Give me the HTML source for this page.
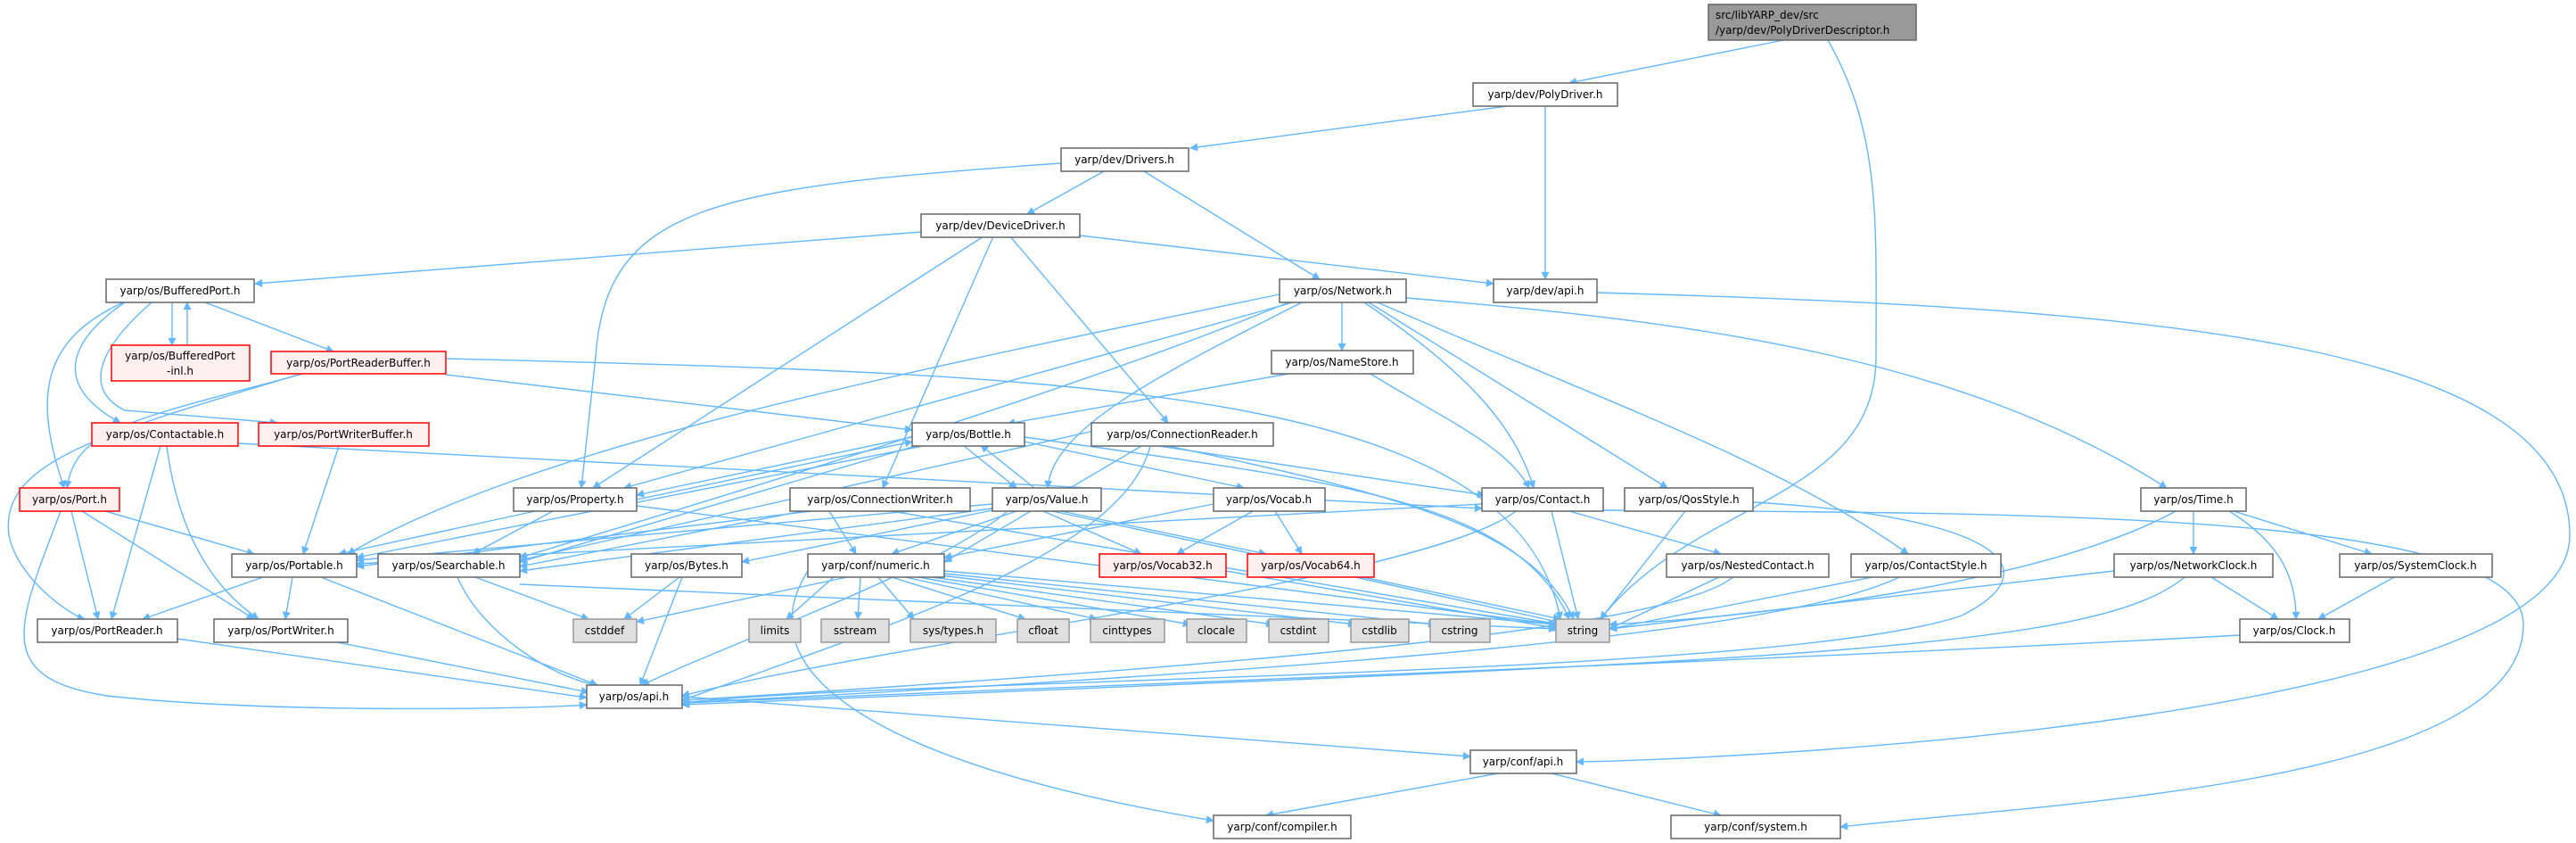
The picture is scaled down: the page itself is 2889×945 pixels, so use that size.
<!DOCTYPE html>
<html><head><meta charset="utf-8"><style>
html,body{margin:0;padding:0;background:#fff;}
svg{display:block}
.e{fill:none;stroke:#63b8ff;stroke-width:1.4;marker-end:url(#a)}
.n rect{fill:#fff;stroke:#666;stroke-width:1.5}
.r rect{fill:#fff0f0;stroke:#f00;stroke-width:1.5}
.g rect{fill:#e0e0e0;stroke:#999;stroke-width:1.5}
text{font-family:"DejaVu Sans","Liberation Sans",sans-serif;font-size:12px;fill:#000}
</style></head><body>
<svg width="2889" height="945" viewBox="0 0 2889 945" xmlns="http://www.w3.org/2000/svg">
<defs><marker id="a" viewBox="0 0 10 10" refX="9" refY="5" markerWidth="11" markerHeight="9" markerUnits="userSpaceOnUse" orient="auto"><path d="M0,0L10,5L0,10z" fill="#63b8ff"/></marker></defs>
<g>
<path class="e" d="M2000,45L1760,93"/>
<path class="e" d="M2050,45C2110,150 2104,250 2104,400C2104,560 1900,560 1795,694"/>
<path class="e" d="M1690,119L1335,166"/>
<path class="e" d="M1733,119L1733,313"/>
<path class="e" d="M1238,192L1152,240"/>
<path class="e" d="M1283,192L1480,313"/>
<path class="e" d="M1190,183C800,210 680,230 668,400L652,547"/>
<path class="e" d="M1033,260L286,318"/>
<path class="e" d="M1211,264L1675,318"/>
<path class="e" d="M1103,265L665,547"/>
<path class="e" d="M1114,265L990,547"/>
<path class="e" d="M1133,265L1310,474"/>
<path class="e" d="M1791,328C2400,345 2882,380 2882,600C2882,800 2000,850 1768,854"/>
<path class="e" d="M193,339L193,387"/>
<path class="e" d="M210,387L210,339"/>
<path class="e" d="M230,339L374,394"/>
<path class="e" d="M170,339C100,400 100,440 140,460L311,474"/>
<path class="e" d="M140,339C80,380 55,430 135,474"/>
<path class="e" d="M138,339C50,380 35,440 72,547"/>
<path class="e" d="M340,419C150,470 85,480 75,547"/>
<path class="e" d="M338,419C100,490 0,520 10,600C20,650 80,690 95,694"/>
<path class="e" d="M500,420L1023,482"/>
<path class="e" d="M500,402C1200,420 1700,430 1750,694"/>
<path class="e" d="M180,500L125,694"/>
<path class="e" d="M187,500C200,600 240,660 290,694"/>
<path class="e" d="M267,497L1662,570"/>
<path class="e" d="M380,500L340,621"/>
<path class="e" d="M68,573C20,700 -10,760 120,780C300,800 600,795 658,790"/>
<path class="e" d="M80,573L110,694"/>
<path class="e" d="M92,573L285,694"/>
<path class="e" d="M118,573L285,621"/>
<path class="e" d="M295,647L160,694"/>
<path class="e" d="M328,647L320,694"/>
<path class="e" d="M360,647L670,768"/>
<path class="e" d="M513,647C540,710 620,760 670,768"/>
<path class="e" d="M533,647L660,694"/>
<path class="e" d="M583,655L1745,705"/>
<path class="e" d="M762,647L700,694"/>
<path class="e" d="M765,647L718,768"/>
<path class="e" d="M199,716L658,782"/>
<path class="e" d="M378,720L660,776"/>
<path class="e" d="M765,781L1649,848"/>
<path class="e" d="M1680,867L1420,914"/>
<path class="e" d="M1740,867L1930,914"/>
<path class="e" d="M950,647L714,697"/>
<path class="e" d="M935,647L882,694"/>
<path class="e" d="M965,647L962,694"/>
<path class="e" d="M985,647L1025,694"/>
<path class="e" d="M1000,647L1150,694"/>
<path class="e" d="M1015,647L1230,694"/>
<path class="e" d="M1030,647L1335,700"/>
<path class="e" d="M1045,647L1428,700"/>
<path class="e" d="M1055,645L1520,700"/>
<path class="e" d="M1059,643L1610,700"/>
<path class="e" d="M1059,640L1745,700"/>
<path class="e" d="M906,640C830,760 1000,860 1361,920"/>
<path class="e" d="M1375,640L1750,705"/>
<path class="e" d="M1520,647L1760,700"/>
<path class="e" d="M714,567L1745,700"/>
<path class="e" d="M600,573L380,621"/>
<path class="e" d="M620,573L530,621"/>
<path class="e" d="M1023,490L714,555"/>
<path class="e" d="M714,560L1023,495"/>
<path class="e" d="M1040,499L400,625"/>
<path class="e" d="M1030,499L583,630"/>
<path class="e" d="M1080,499L1140,547"/>
<path class="e" d="M1160,547L1100,499"/>
<path class="e" d="M1149,495L1395,547"/>
<path class="e" d="M1149,490C1500,540 1700,560 1760,694"/>
<path class="e" d="M1300,500L1665,555"/>
<path class="e" d="M1240,480L583,628"/>
<path class="e" d="M1280,500L1059,630"/>
<path class="e" d="M1310,500C1600,560 1720,600 1765,694"/>
<path class="e" d="M1290,500C1260,620 1000,700 765,785"/>
<path class="e" d="M900,573L583,635"/>
<path class="e" d="M930,573L960,621"/>
<path class="e" d="M910,573L400,635"/>
<path class="e" d="M1000,573L1750,700"/>
<path class="e" d="M1113,565L400,628"/>
<path class="e" d="M1113,570L583,640"/>
<path class="e" d="M1140,573L1000,621"/>
<path class="e" d="M1170,573L1280,621"/>
<path class="e" d="M1190,573L1420,621"/>
<path class="e" d="M1180,573L1750,694"/>
<path class="e" d="M1130,573C1050,640 820,720 720,768"/>
<path class="e" d="M1113,572L832,630"/>
<path class="e" d="M1405,573L1320,621"/>
<path class="e" d="M1430,573L1460,621"/>
<path class="e" d="M1361,565L1059,625"/>
<path class="e" d="M1662,565L400,632"/>
<path class="e" d="M1760,573L1930,621"/>
<path class="e" d="M1740,573L1770,694"/>
<path class="e" d="M1700,573C1600,650 1000,720 765,780"/>
<path class="e" d="M1798,572C2300,575 2830,575 2830,700C2830,880 2300,900 2064,927"/>
<path class="e" d="M1435,330C1000,420 600,500 390,621"/>
<path class="e" d="M1450,339L700,547"/>
<path class="e" d="M1505,339L1505,393"/>
<path class="e" d="M1460,339C1300,420 1180,480 1175,547"/>
<path class="e" d="M1530,339C1650,420 1700,480 1720,547"/>
<path class="e" d="M1535,339L1870,547"/>
<path class="e" d="M1545,339C1800,450 2000,520 2140,621"/>
<path class="e" d="M1577,334C1900,360 2200,400 2430,547"/>
<path class="e" d="M1445,339C1200,440 800,560 583,625"/>
<path class="e" d="M1445,419L1130,475"/>
<path class="e" d="M1537,419C1620,470 1690,500 1715,547"/>
<path class="e" d="M1890,573L1795,694"/>
<path class="e" d="M1966,563C2250,580 2300,640 2200,690C2000,760 1000,760 765,788"/>
<path class="e" d="M1930,646L1805,705"/>
<path class="e" d="M1945,646C1880,700 1500,740 765,785"/>
<path class="e" d="M2100,647L1805,705"/>
<path class="e" d="M2130,647C2000,710 1500,750 765,788"/>
<path class="e" d="M2371,640L1805,705"/>
<path class="e" d="M2450,647C2350,730 2000,740 765,790"/>
<path class="e" d="M2480,647L2555,694"/>
<path class="e" d="M2440,573C2300,650 2000,690 1805,700"/>
<path class="e" d="M2460,573L2460,621"/>
<path class="e" d="M2500,573C2560,610 2575,650 2575,694"/>
<path class="e" d="M2505,573L2660,621"/>
<path class="e" d="M2685,647L2600,694"/>
<path class="e" d="M2512,712C2000,740 1200,770 765,788"/>
</g>
<g>
<g class="g"><rect x="1916" y="5" width="233" height="40" style="fill:#999;stroke:#666"/></g>
<text x="1924" y="21" font-size="12">src/libYARP_dev/src</text>
<text x="1924" y="38" font-size="12">/yarp/dev/PolyDriverDescriptor.h</text>

<g class="n"><rect x="1652" y="93" width="162" height="26"/><text x="1733" y="110" text-anchor="middle">yarp/dev/PolyDriver.h</text></g>
<g class="n"><rect x="1190" y="166" width="143" height="26"/><text x="1261" y="183" text-anchor="middle">yarp/dev/Drivers.h</text></g>
<g class="n"><rect x="1033" y="240" width="178" height="26"/><text x="1122" y="257" text-anchor="middle">yarp/dev/DeviceDriver.h</text></g>
<g class="n"><rect x="119" y="313" width="166" height="26"/><text x="202" y="330" text-anchor="middle">yarp/os/BufferedPort.h</text></g>
<g class="n"><rect x="1435" y="313" width="142" height="26"/><text x="1506" y="330" text-anchor="middle">yarp/os/Network.h</text></g>
<g class="n"><rect x="1675" y="313" width="116" height="26"/><text x="1733" y="330" text-anchor="middle">yarp/dev/api.h</text></g>
<g class="r"><rect x="125" y="387" width="155" height="40"/><text x="202" y="403" text-anchor="middle">yarp/os/BufferedPort</text><text x="202" y="420" text-anchor="middle">-inl.h</text></g>
<g class="r"><rect x="304" y="394" width="196" height="25"/><text x="402" y="411" text-anchor="middle">yarp/os/PortReaderBuffer.h</text></g>
<g class="n"><rect x="1426" y="393" width="159" height="26"/><text x="1505" y="410" text-anchor="middle">yarp/os/NameStore.h</text></g>
<g class="n"><rect x="1023" y="474" width="126" height="26"/><text x="1086" y="491" text-anchor="middle">yarp/os/Bottle.h</text></g>
<g class="n"><rect x="1224" y="474" width="204" height="26"/><text x="1326" y="491" text-anchor="middle">yarp/os/ConnectionReader.h</text></g>
<g class="r"><rect x="103" y="474" width="164" height="26"/><text x="185" y="491" text-anchor="middle">yarp/os/Contactable.h</text></g>
<g class="r"><rect x="290" y="474" width="191" height="26"/><text x="385" y="491" text-anchor="middle">yarp/os/PortWriterBuffer.h</text></g>
<g class="r"><rect x="22" y="547" width="112" height="26"/><text x="78" y="564" text-anchor="middle">yarp/os/Port.h</text></g>
<g class="n"><rect x="576" y="547" width="138" height="26"/><text x="645" y="564" text-anchor="middle">yarp/os/Property.h</text></g>
<g class="n"><rect x="886" y="547" width="202" height="26"/><text x="987" y="564" text-anchor="middle">yarp/os/ConnectionWriter.h</text></g>
<g class="n"><rect x="1113" y="547" width="122" height="26"/><text x="1174" y="564" text-anchor="middle">yarp/os/Value.h</text></g>
<g class="n"><rect x="1361" y="547" width="125" height="26"/><text x="1423" y="564" text-anchor="middle">yarp/os/Vocab.h</text></g>
<g class="n"><rect x="1662" y="547" width="136" height="26"/><text x="1730" y="564" text-anchor="middle">yarp/os/Contact.h</text></g>
<g class="n"><rect x="1822" y="547" width="144" height="26"/><text x="1894" y="564" text-anchor="middle">yarp/os/QosStyle.h</text></g>
<g class="n"><rect x="2401" y="547" width="118" height="26"/><text x="2460" y="564" text-anchor="middle">yarp/os/Time.h</text></g>
<g class="n"><rect x="260" y="621" width="140" height="26"/><text x="330" y="638" text-anchor="middle">yarp/os/Portable.h</text></g>
<g class="n"><rect x="424" y="621" width="159" height="26"/><text x="503" y="638" text-anchor="middle">yarp/os/Searchable.h</text></g>
<g class="n"><rect x="708" y="621" width="124" height="26"/><text x="770" y="638" text-anchor="middle">yarp/os/Bytes.h</text></g>
<g class="n"><rect x="906" y="621" width="153" height="26"/><text x="982" y="638" text-anchor="middle">yarp/conf/numeric.h</text></g>
<g class="r"><rect x="1233" y="621" width="142" height="26"/><text x="1304" y="638" text-anchor="middle">yarp/os/Vocab32.h</text></g>
<g class="r"><rect x="1399" y="621" width="142" height="26"/><text x="1470" y="638" text-anchor="middle">yarp/os/Vocab64.h</text></g>
<g class="n"><rect x="1869" y="621" width="182" height="26"/><text x="1960" y="638" text-anchor="middle">yarp/os/NestedContact.h</text></g>
<g class="n"><rect x="2076" y="621" width="168" height="26"/><text x="2160" y="638" text-anchor="middle">yarp/os/ContactStyle.h</text></g>
<g class="n"><rect x="2371" y="621" width="178" height="26"/><text x="2460" y="638" text-anchor="middle">yarp/os/NetworkClock.h</text></g>
<g class="n"><rect x="2624" y="621" width="171" height="26"/><text x="2709" y="638" text-anchor="middle">yarp/os/SystemClock.h</text></g>
<g class="n"><rect x="42" y="694" width="157" height="26"/><text x="120" y="711" text-anchor="middle">yarp/os/PortReader.h</text></g>
<g class="n"><rect x="240" y="694" width="150" height="26"/><text x="315" y="711" text-anchor="middle">yarp/os/PortWriter.h</text></g>
<g class="g"><rect x="643" y="694" width="71" height="26"/><text x="678" y="711" text-anchor="middle">cstddef</text></g>
<g class="g"><rect x="840" y="694" width="58" height="26"/><text x="869" y="711" text-anchor="middle">limits</text></g>
<g class="g"><rect x="921" y="694" width="76" height="26"/><text x="959" y="711" text-anchor="middle">sstream</text></g>
<g class="g"><rect x="1021" y="694" width="96" height="26"/><text x="1069" y="711" text-anchor="middle">sys/types.h</text></g>
<g class="g"><rect x="1141" y="694" width="58" height="26"/><text x="1170" y="711" text-anchor="middle">cfloat</text></g>
<g class="g"><rect x="1223" y="694" width="83" height="26"/><text x="1264" y="711" text-anchor="middle">cinttypes</text></g>
<g class="g"><rect x="1331" y="694" width="67" height="26"/><text x="1364" y="711" text-anchor="middle">clocale</text></g>
<g class="g"><rect x="1423" y="694" width="67" height="26"/><text x="1456" y="711" text-anchor="middle">cstdint</text></g>
<g class="g"><rect x="1515" y="694" width="65" height="26"/><text x="1547" y="711" text-anchor="middle">cstdlib</text></g>
<g class="g"><rect x="1604" y="694" width="67" height="26"/><text x="1637" y="711" text-anchor="middle">cstring</text></g>
<g class="g"><rect x="1745" y="694" width="60" height="26"/><text x="1775" y="711" text-anchor="middle">string</text></g>
<g class="n"><rect x="2512" y="694" width="123" height="26"/><text x="2573" y="711" text-anchor="middle">yarp/os/Clock.h</text></g>
<g class="n"><rect x="658" y="768" width="107" height="26"/><text x="711" y="785" text-anchor="middle">yarp/os/api.h</text></g>
<g class="n"><rect x="1649" y="841" width="119" height="26"/><text x="1708" y="858" text-anchor="middle">yarp/conf/api.h</text></g>
<g class="n"><rect x="1361" y="914" width="154" height="26"/><text x="1438" y="931" text-anchor="middle">yarp/conf/compiler.h</text></g>
<g class="n"><rect x="1874" y="914" width="190" height="26"/><text x="1969" y="931" text-anchor="middle">yarp/conf/system.h</text></g>
</g>
</svg>
</body></html>
